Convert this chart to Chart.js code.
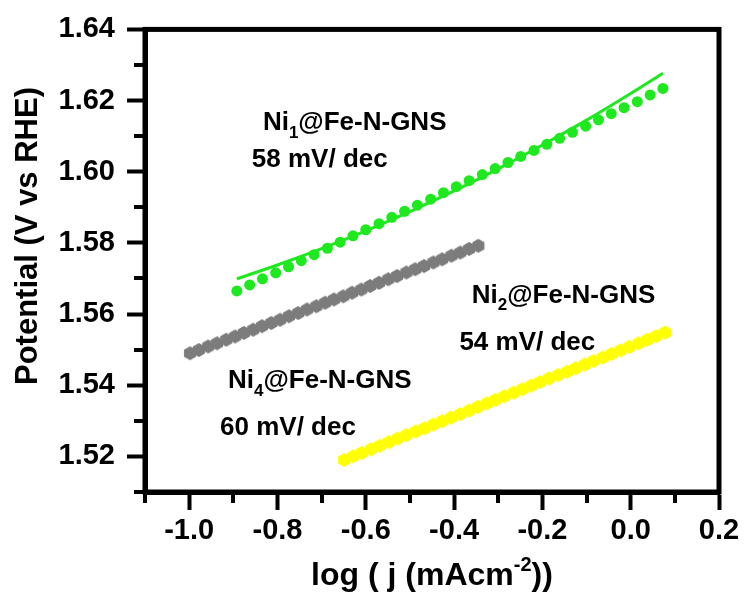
<!DOCTYPE html>
<html>
<head>
<meta charset="utf-8">
<script src="https://cdn.jsdelivr.net/npm/chart.js@4.4.1/dist/chart.umd.min.js"></script>
<style>
  html, body { margin: 0; padding: 0; background: #fff; }
  canvas { display: block; }
</style>
</head>
<body>
<canvas id="tafel" width="745" height="597"></canvas>
<script>
// Tafel plots: potential vs log current density
const X_TICKS = [-1.0, -0.8, -0.6, -0.4, -0.2, 0.0, 0.2];
const X_MINOR = [-1.1, -0.9, -0.7, -0.5, -0.3, -0.1, 0.1];
const Y_TICKS = [1.52, 1.54, 1.56, 1.58, 1.60, 1.62, 1.64];
const Y_MINOR = [1.51, 1.53, 1.55, 1.57, 1.59, 1.61, 1.63];

// Ni1@Fe-N-GNS measured points
const ni1LogJ = [-0.892, -0.863, -0.834, -0.804, -0.775, -0.746, -0.717, -0.687, -0.658, -0.629,
                 -0.600, -0.570, -0.541, -0.512, -0.483, -0.453, -0.424, -0.395, -0.366, -0.336,
                 -0.307, -0.278, -0.249, -0.219, -0.190, -0.161, -0.132, -0.102, -0.073, -0.044,
                 -0.015, 0.015, 0.044, 0.073];
const ni1E = [1.5665, 1.5682, 1.5699, 1.5716, 1.5733, 1.5750, 1.5767, 1.5785, 1.5802, 1.5820,
              1.5837, 1.5854, 1.5872, 1.5889, 1.5906, 1.5923, 1.5941, 1.5958, 1.5975, 1.5992,
              1.6009, 1.6026, 1.6043, 1.6060, 1.6077, 1.6094, 1.6111, 1.6128, 1.6146, 1.6163,
              1.6180, 1.6197, 1.6216, 1.6234];
// Ni1@Fe-N-GNS fitted curve
const ni1FitLogJ = [-0.892, -0.8, -0.7, -0.6, -0.5, -0.4, -0.3, -0.2, -0.1, 0.0, 0.073];
const ni1FitE = [1.5699, 1.5738, 1.5784, 1.5834, 1.5888, 1.5946, 1.6008, 1.6075, 1.6145, 1.6220, 1.6277];

// Ni4@Fe-N-GNS
const ni4LogJ = [-0.998, -0.978, -0.957, -0.937, -0.916, -0.896, -0.876, -0.855, -0.835, -0.814,
                 -0.794, -0.774, -0.753, -0.733, -0.712, -0.692, -0.672, -0.651, -0.631, -0.610,
                 -0.590, -0.570, -0.549, -0.529, -0.508, -0.488, -0.468, -0.447, -0.427, -0.406,
                 -0.386, -0.366, -0.345];
const ni4E = [1.5490, 1.5499, 1.5509, 1.5518, 1.5528, 1.5537, 1.5547, 1.5556, 1.5566, 1.5575,
              1.5584, 1.5594, 1.5603, 1.5613, 1.5622, 1.5632, 1.5641, 1.5650, 1.5660, 1.5669,
              1.5679, 1.5688, 1.5698, 1.5707, 1.5717, 1.5726, 1.5735, 1.5745, 1.5754, 1.5764,
              1.5773, 1.5783, 1.5792];

// Ni2@Fe-N-GNS
const ni2LogJ = [-0.649, -0.629, -0.609, -0.588, -0.568, -0.548, -0.528, -0.508, -0.487, -0.467,
                 -0.447, -0.427, -0.407, -0.386, -0.366, -0.346, -0.326, -0.306, -0.286, -0.265,
                 -0.245, -0.225, -0.205, -0.185, -0.164, -0.144, -0.124, -0.104, -0.084, -0.063,
                 -0.043, -0.023, -0.003, 0.018, 0.038, 0.058, 0.078];
const ni2E = [1.5190, 1.5200, 1.5210, 1.5220, 1.5230, 1.5240, 1.5250, 1.5260, 1.5270, 1.5279,
              1.5289, 1.5299, 1.5309, 1.5319, 1.5329, 1.5339, 1.5349, 1.5359, 1.5369, 1.5379,
              1.5389, 1.5399, 1.5409, 1.5419, 1.5429, 1.5438, 1.5448, 1.5458, 1.5468, 1.5478,
              1.5488, 1.5498, 1.5508, 1.5518, 1.5528, 1.5538, 1.5548];

// Sample names (split around the subscript) and Tafel slopes
const sampleHead = 'Ni';
const sampleTail = '@Fe-N-GNS';
const sampleIndex = ['1', '2', '4'];
const slopeText = ['58 mV/ dec', '54 mV/ dec', '60 mV/ dec'];

const FONT = '"Liberation Sans", Arial, Helvetica, sans-serif';
const GREEN = '#1ee81e';
const GRAY = '#7c7c7c';
const YELLOW = '#ffff00';

const pairs = (xs, ys) => xs.map((v, i) => ({ x: v, y: ys[i] }));

function hexagon(color, r) {
  const c = document.createElement('canvas');
  const s = Math.ceil(r * 2 + 2);
  c.width = s; c.height = s;
  const g = c.getContext('2d');
  g.fillStyle = color;
  g.beginPath();
  for (let k = 0; k < 6; k++) {
    const a = (-90 + 60 * k) * Math.PI / 180;
    const px = s / 2 + r * Math.cos(a), py = s / 2 + r * Math.sin(a);
    if (k === 0) g.moveTo(px, py); else g.lineTo(px, py);
  }
  g.closePath();
  g.fill();
  return c;
}

// label anchors in data units (left edge, baseline)
const notes = [
  { idx: 0, name: [-0.833, 1.6116], slope: [-0.858, 1.6013] },
  { idx: 1, name: [-0.360, 1.5632], slope: [-0.388, 1.5499] },
  { idx: 2, name: [-0.912, 1.5392], slope: [-0.930, 1.5260] }
];

function drawSub(ctx, x, y, head, sub, tail, size) {
  ctx.font = `bold ${size}px ${FONT}`;
  ctx.fillText(head, x, y);
  x += ctx.measureText(head).width;
  const ss = Math.round(size * 0.66);
  ctx.font = `bold ${ss}px ${FONT}`;
  ctx.fillText(sub, x, y + size * 0.3);
  x += ctx.measureText(sub).width;
  ctx.font = `bold ${size}px ${FONT}`;
  ctx.fillText(tail, x, y);
}

const decor = {
  id: 'decor',
  afterDraw(chart) {
    const { ctx, chartArea: a, scales: { x, y } } = chart;
    ctx.save();
    ctx.strokeStyle = '#000';
    ctx.lineWidth = 5;
    ctx.lineJoin = 'miter';
    ctx.strokeRect(a.left, a.top, a.right - a.left, a.bottom - a.top);
    ctx.lineWidth = 4;
    ctx.beginPath();
    X_MINOR.forEach(v => {
      const px = Math.round(x.getPixelForValue(v));
      ctx.moveTo(px, a.bottom); ctx.lineTo(px, a.bottom + 11);
    });
    Y_MINOR.forEach(v => {
      const py = Math.round(y.getPixelForValue(v));
      ctx.moveTo(a.left, py); ctx.lineTo(a.left - 11, py);
    });
    ctx.stroke();

    ctx.fillStyle = '#000';
    ctx.textBaseline = 'alphabetic';
    ctx.textAlign = 'left';
    notes.forEach(n => {
      drawSub(ctx, x.getPixelForValue(n.name[0]), y.getPixelForValue(n.name[1]),
              sampleHead, sampleIndex[n.idx], sampleTail, 26);
      ctx.font = `bold 26px ${FONT}`;
      ctx.fillText(slopeText[n.idx], x.getPixelForValue(n.slope[0]), y.getPixelForValue(n.slope[1]));
    });

    // x axis title with superscript
    const big = `bold 32px ${FONT}`, small = `bold 20px ${FONT}`;
    const p1 = 'log ( j (mAcm', sup = '-2', p2 = '))';
    ctx.font = big; const w1 = ctx.measureText(p1).width, w3 = ctx.measureText(p2).width;
    ctx.font = small; const w2 = ctx.measureText(sup).width;
    let tx = (a.left + a.right) / 2 - (w1 + w2 + w3) / 2;
    const ty = 585;
    ctx.font = big; ctx.fillText(p1, tx, ty); tx += w1;
    ctx.font = small; ctx.fillText(sup, tx, ty - 14); tx += w2;
    ctx.font = big; ctx.fillText(p2, tx, ty);

    // y axis title
    ctx.translate(28, 236);
    ctx.rotate(-Math.PI / 2);
    ctx.textAlign = 'center';
    ctx.textBaseline = 'middle';
    ctx.font = `bold 31px ${FONT}`;
    ctx.fillText('Potential (V vs RHE)', 0, 0);
    ctx.restore();
  }
};

const tickFont = { family: FONT, size: 29, weight: 'bold' };

new Chart(document.getElementById('tafel'), {
  type: 'scatter',
  data: {
    datasets: [
      { data: pairs(ni1FitLogJ, ni1FitE), showLine: true, borderColor: GREEN, borderWidth: 3,
        pointRadius: 0, cubicInterpolationMode: 'monotone', fill: false },
      { data: pairs(ni1LogJ, ni1E), backgroundColor: GREEN, borderWidth: 0, pointRadius: 5.5 },
      { data: pairs(ni4LogJ, ni4E), pointStyle: hexagon(GRAY, 7), pointRadius: 7, borderWidth: 0 },
      { data: pairs(ni2LogJ, ni2E), pointStyle: hexagon(YELLOW, 7), pointRadius: 7, borderWidth: 0 }
    ]
  },
  options: {
    responsive: false,
    animation: false,
    devicePixelRatio: 1,
    events: [],
    layout: { padding: { top: 27.5, right: 26, left: 0, bottom: 0 } },
    plugins: { legend: { display: false }, tooltip: { enabled: false } },
    scales: {
      x: {
        type: 'linear', min: -1.1, max: 0.2,
        afterBuildTicks: s => { s.ticks = X_TICKS.map(v => ({ value: v })); },
        afterFit: s => { s.height = 105; },
        ticks: { font: tickFont, color: '#000', padding: 4, maxRotation: 0, autoSkip: false,
                 callback: v => v.toFixed(1) },
        grid: { drawOnChartArea: false, drawTicks: true, tickLength: 18, tickWidth: 4, tickColor: '#000' },
        border: { display: true, width: 5, color: '#000' }
      },
      y: {
        type: 'linear', min: 1.51, max: 1.64,
        afterBuildTicks: s => { s.ticks = Y_TICKS.map(v => ({ value: v })); },
        afterFit: s => { s.width = 145; },
        ticks: { font: tickFont, color: '#000', padding: 12, autoSkip: false,
                 callback: v => v.toFixed(2) },
        grid: { drawOnChartArea: false, drawTicks: true, tickLength: 18, tickWidth: 4, tickColor: '#000' },
        border: { display: true, width: 5, color: '#000' }
      }
    }
  },
  plugins: [decor]
});
</script>
</body>
</html>
